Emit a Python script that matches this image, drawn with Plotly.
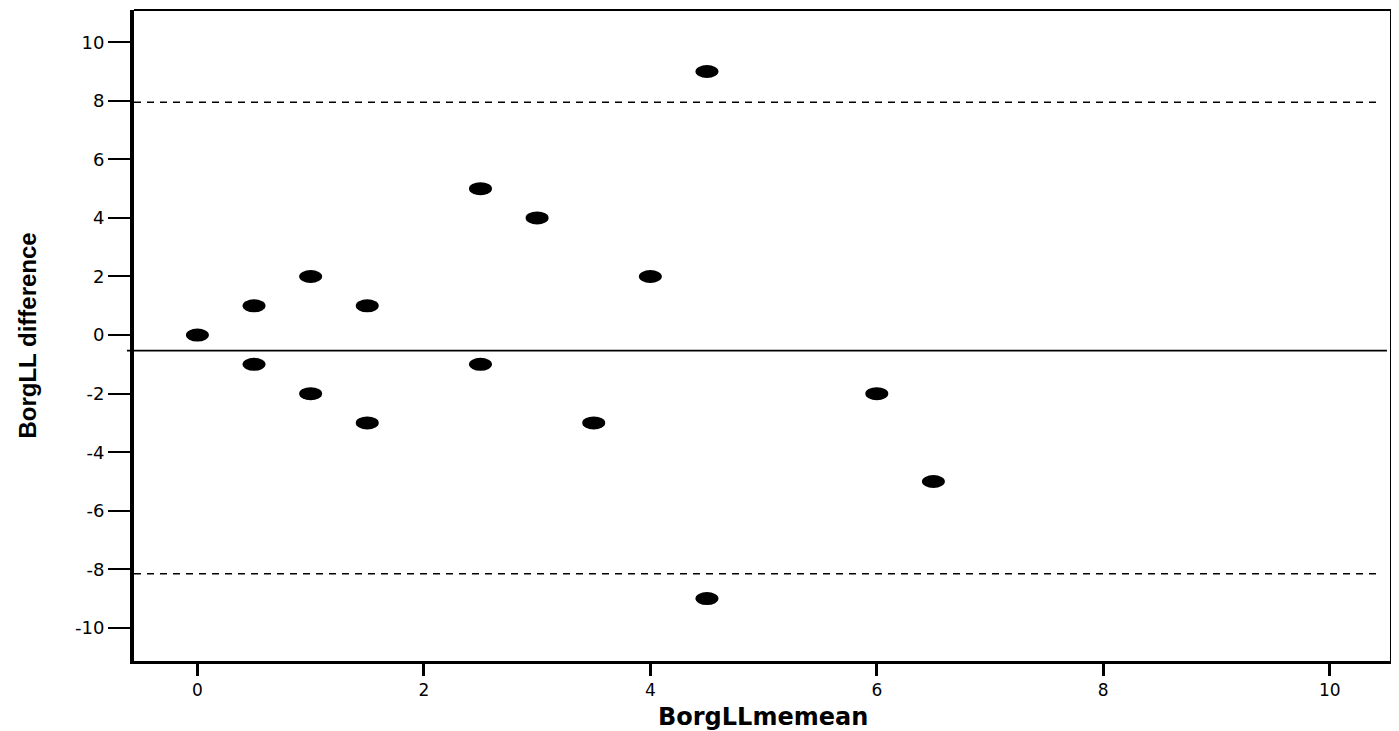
import plotly.graph_objects as go

# Data (Bland-Altman plot)
mean_vals = [0, 0.5, 0.5, 1, 1, 1.5, 1.5, 2.5, 2.5, 3, 3.5, 4, 4.5, 4.5, 6, 6.5]
diff_vals = [0, 1, -1, 2, -2, 1, -3, 5, -1, 4, -3, 2, 9, -9, -2, -5]
mean_diff = -0.53
upper_loa = 7.95
lower_loa = -8.15
x_ticks = [0, 2, 4, 6, 8, 10]
y_ticks = [-10, -8, -6, -4, -2, 0, 2, 4, 6, 8, 10]

fig = go.Figure()
fig.add_trace(go.Scatter(x=mean_vals, y=diff_vals, mode="markers",
                         marker=dict(size=1, color="rgba(0,0,0,0)"),
                         showlegend=False, hoverinfo="x+y"))

shapes = []
# ellipse markers anchored at data coordinates
for xv, yv in zip(mean_vals, diff_vals):
    shapes.append(dict(type="circle", xref="x", yref="y",
                       xsizemode="pixel", ysizemode="pixel",
                       xanchor=xv, yanchor=yv,
                       x0=-11.5, x1=11.5, y0=-6.5, y1=6.5,
                       fillcolor="black", line=dict(width=0)))
# mean line
shapes.append(dict(type="line", xref="paper", yref="y", x0=-0.0056, x1=0.996,
                   y0=mean_diff, y1=mean_diff, line=dict(color="black", width=1.6)))
# limits of agreement
for v in (upper_loa, lower_loa):
    shapes.append(dict(type="line", xref="paper", yref="y", x0=0, x1=0.990,
                       y0=v, y1=v, line=dict(color="black", width=1.6, dash="7px,6px")))
# frame top and right
shapes.append(dict(type="line", xref="paper", yref="paper", x0=0, x1=1, y0=1, y1=1,
                   line=dict(color="black", width=2)))
shapes.append(dict(type="line", xref="paper", yref="paper", x0=1, x1=1, y0=0, y1=1,
                   line=dict(color="black", width=4)))

fig.update_layout(
    width=1391, height=723,
    margin=dict(l=126, r=7, t=2, b=70),
    paper_bgcolor="white", plot_bgcolor="white",
    shapes=shapes,
    showlegend=False,
    xaxis=dict(range=[-0.56, 10.55], tickvals=x_ticks, ticktext=[str(t) for t in x_ticks],
               showgrid=False, zeroline=False, showline=True, linecolor="black", linewidth=3,
               ticks="outside", ticklen=12, tickwidth=3, tickcolor="black",
               tickfont=dict(family="DejaVu Sans", size=17, color="black")),
    yaxis=dict(range=[-11.13, 11.10], tickvals=y_ticks, ticktext=[str(t) for t in y_ticks],
               showgrid=False, zeroline=False, showline=True, linecolor="black", linewidth=4,
               ticks="outside", ticklen=22, tickwidth=2, tickcolor="black",
               tickfont=dict(family="DejaVu Sans", size=18, color="black")),
    annotations=[
        dict(text="<b>BorgLLmemean</b>", xref="paper", yref="paper", x=0.5, y=-0.086,
             xanchor="center", yanchor="middle", showarrow=False,
             font=dict(family="DejaVu Sans", size=24, color="black")),
        dict(text="<b>BorgLL difference</b>", xref="paper", yref="paper", x=-0.085, y=0.5,
             xanchor="center", yanchor="middle", textangle=-90, showarrow=False,
             font=dict(family="Liberation Sans", size=24, color="black")),
    ],
)

fig.write_html("out.html")
